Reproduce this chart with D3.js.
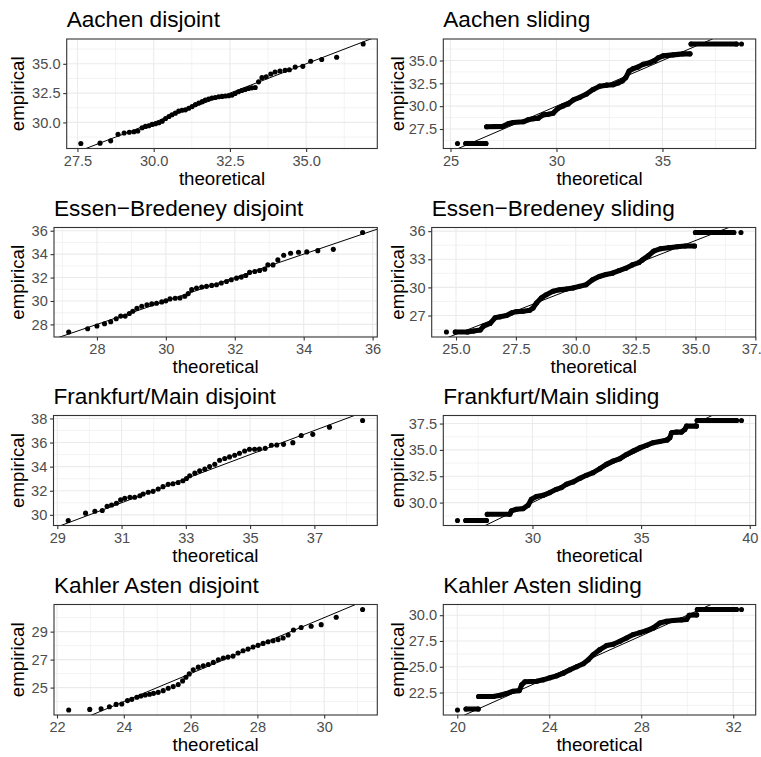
<!DOCTYPE html>
<html>
<head>
<meta charset="utf-8">
<script src="https://cdn.jsdelivr.net/npm/d3@7"></script>
<style>
  body { margin: 0; background: #ffffff; }
  svg { display: block; }
</style>
</head>
<body>
<svg id="chart" width="761" height="757"></svg>
<script>
// ---- Block-maxima quantile-quantile data (theoretical vs empirical) ----

// Disjoint block maxima: one point per block
const aachenDisjointTheo = [27.61,28.24,28.59,28.83,29.03,29.20,29.35,29.48,29.62,29.73,29.84,29.95,30.06,30.17,30.28,30.39,30.50,30.60,30.71,30.82,30.93,31.04,31.15,31.26,31.37,31.48,31.59,31.69,31.80,31.91,32.02,32.13,32.24,32.35,32.46,32.57,32.67,32.78,32.89,33.00,33.11,33.22,33.33,33.44,33.55,33.69,33.84,33.98,34.14,34.31,34.45,34.64,34.89,35.15,35.51,36.00,36.87];
const aachenDisjointEmp  = [28.20,28.23,28.43,28.99,29.10,29.16,29.21,29.27,29.55,29.66,29.72,29.83,29.89,29.97,30.11,30.34,30.51,30.65,30.79,30.96,31.04,31.07,31.21,31.35,31.52,31.66,31.77,31.91,31.99,32.08,32.13,32.19,32.22,32.25,32.28,32.33,32.47,32.61,32.72,32.81,32.89,32.95,32.98,33.46,33.82,33.90,34.13,34.30,34.38,34.44,34.49,34.72,34.78,35.22,35.37,35.56,36.69];

const essenDisjointTheo = [27.18,27.73,28.00,28.22,28.40,28.56,28.69,28.82,28.94,29.04,29.16,29.30,29.45,29.59,29.73,29.88,30.00,30.12,30.27,30.41,30.55,30.65,30.75,30.89,31.04,31.18,31.33,31.47,31.61,31.76,31.90,32.05,32.19,32.32,32.43,32.58,32.72,32.87,32.96,33.11,33.25,33.42,33.62,33.85,34.09,34.41,34.86,35.71];
const essenDisjointEmp  = [27.35,27.63,27.86,28.06,28.23,28.48,28.71,28.71,28.93,29.13,29.38,29.55,29.67,29.75,29.81,29.92,30.01,30.18,30.23,30.26,30.40,30.63,30.97,31.11,31.19,31.25,31.33,31.39,31.53,31.67,31.81,31.95,32.04,32.18,32.44,32.52,32.60,32.72,33.08,33.08,33.51,33.90,34.07,34.16,34.19,34.30,34.41,35.85];

const frankfurtDisjointTheo = [29.34,29.88,30.17,30.40,30.55,30.69,30.84,30.97,31.10,31.26,31.41,31.57,31.67,31.83,31.98,32.14,32.29,32.45,32.60,32.76,32.91,33.02,33.12,33.28,33.43,33.59,33.74,33.90,34.05,34.21,34.36,34.52,34.67,34.83,34.98,35.14,35.29,35.47,35.66,35.83,36.04,36.33,36.59,36.95,37.47,38.50];
const frankfurtDisjointEmp  = [29.53,30.14,30.30,30.36,30.71,30.82,30.96,31.24,31.37,31.46,31.46,31.59,31.73,31.87,31.95,32.14,32.34,32.53,32.58,32.69,32.83,33.02,33.24,33.46,33.65,33.79,34.01,34.20,34.53,34.67,34.81,34.95,35.11,35.30,35.44,35.44,35.47,35.52,35.77,35.80,35.85,35.99,36.59,36.68,37.28,37.83];

const kahlerDisjointTheo = [22.35,22.98,23.32,23.57,23.77,23.94,24.11,24.24,24.39,24.51,24.64,24.77,24.89,25.03,25.18,25.33,25.48,25.63,25.76,25.86,25.96,26.08,26.23,26.38,26.53,26.68,26.83,26.98,27.12,27.27,27.42,27.57,27.72,27.87,28.02,28.17,28.32,28.47,28.62,28.77,28.92,29.08,29.31,29.61,29.91,30.36,31.15];
const kahlerDisjointEmp  = [23.40,23.44,23.49,23.63,23.80,23.83,24.07,24.16,24.31,24.40,24.47,24.52,24.59,24.66,24.78,24.95,25.07,25.22,25.48,25.74,25.98,26.27,26.46,26.56,26.65,26.80,26.99,27.11,27.18,27.25,27.47,27.63,27.75,27.90,28.02,28.16,28.28,28.35,28.43,28.54,28.76,29.12,29.29,29.38,29.50,30.03,30.58];

// Sliding block maxima: many overlapping points, stored as runs of
// [theoretical, empirical] pairs that trace each continuous band of points
const aachenSlidingRuns = [
  [[25.33,25.91]],
  [[25.72,25.91],[26.67,25.91]],
  [[26.70,27.75],[27.48,27.79],[27.72,28.08],[27.96,28.22],[28.43,28.29],[28.66,28.51],[28.90,28.62],[29.14,28.69],[29.37,29.05],[29.61,29.12],[29.84,29.23],[30.08,29.77],[30.31,30.03],[30.55,30.24],[30.79,30.68],[31.10,30.97],[31.42,31.33],[31.73,31.83],[32.04,32.19],[32.36,32.30],[32.67,32.34],[32.91,32.55],[33.11,32.77],[33.27,33.13],[33.43,33.85],[33.62,34.11],[33.85,34.29],[34.09,34.58],[34.40,34.76],[34.64,35.01],[34.80,35.30],[35.03,35.51],[35.50,35.62],[35.97,35.73],[36.30,35.73]],
  [[36.35,36.81],[38.49,36.81]],
  [[38.73,36.81]]
];

const essenSlidingRuns = [
  [[24.60,25.24]],
  [[24.97,25.24],[25.48,25.24],[25.73,25.34],[26.01,25.45],[26.15,25.87],[26.42,26.15],[26.63,26.75],[26.84,26.86],[27.11,27.00],[27.32,27.28],[27.53,27.42],[27.80,27.46],[28.08,27.56],[28.22,27.81],[28.36,28.34],[28.56,28.87],[28.77,29.22],[29.05,29.58],[29.32,29.75],[29.60,29.82],[29.88,29.93],[30.15,30.11],[30.43,30.28],[30.70,30.81],[30.98,31.17],[31.26,31.38],[31.53,31.52],[31.81,31.80],[32.09,32.05],[32.36,32.40],[32.64,32.65],[32.78,32.93],[33.05,33.42],[33.26,33.88],[33.54,34.13],[33.88,34.24],[34.23,34.34],[34.57,34.41],[34.96,34.41]],
  [[35.00,35.86],[36.60,35.86]],
  [[36.90,35.86]]
];

const frankfurtSlidingRuns = [
  [[26.55,28.30]],
  [[26.93,28.30],[27.88,28.30]],
  [[27.92,28.90],[28.96,28.90],[29.03,29.21],[29.26,29.37],[29.57,29.43],[29.80,29.75],[29.95,30.32],[30.18,30.57],[30.49,30.69],[30.80,30.95],[31.10,31.26],[31.33,31.42],[31.56,31.74],[31.87,31.96],[32.18,32.30],[32.48,32.59],[32.79,32.84],[33.10,33.22],[33.40,33.63],[33.71,33.94],[34.02,34.16],[34.33,34.57],[34.63,34.89],[34.94,35.21],[35.25,35.43],[35.55,35.68],[35.86,35.80],[36.20,35.93],[36.32,36.15],[36.40,36.62],[36.63,36.69],[36.86,36.69],[37.01,36.94],[37.09,37.26],[37.55,37.26]],
  [[37.58,37.79],[39.39,37.79]],
  [[39.62,37.79]]
];

const kahlerSlidingRuns = [
  [[20.01,20.81]],
  [[20.38,20.91],[20.91,20.91]],
  [[20.93,22.11],[21.57,22.11],[21.86,22.24],[22.14,22.40],[22.43,22.63],[22.70,22.69],[22.80,23.25],[22.94,23.54],[23.45,23.60],[23.74,23.73],[24.03,23.93],[24.32,24.12],[24.61,24.38],[24.90,24.71],[25.19,25.00],[25.48,25.29],[25.70,25.68],[25.91,26.17],[26.20,26.66],[26.49,27.05],[26.78,27.18],[27.07,27.47],[27.36,27.79],[27.65,28.12],[27.94,28.31],[28.23,28.51],[28.52,28.77],[28.81,29.25],[29.10,29.42],[29.39,29.48],[29.75,29.55],[29.97,29.58],[30.09,30.00],[30.41,30.03]],
  [[30.44,30.55],[32.14,30.55]],
  [[32.36,30.55]]
];

// Tick breaks and labels
const aachenDisjointXTicks = [27.5, 30, 32.5, 35];   const aachenDisjointXLabels = ["27.5","30.0","32.5","35.0"];
const aachenDisjointYTicks = [30, 32.5, 35];         const aachenDisjointYLabels = ["30.0","32.5","35.0"];
const aachenSlidingXTicks = [25, 30, 35];            const aachenSlidingXLabels = ["25","30","35"];
const aachenSlidingYTicks = [27.5, 30, 32.5, 35];    const aachenSlidingYLabels = ["27.5","30.0","32.5","35.0"];
const essenDisjointXTicks = [28, 30, 32, 34, 36];    const essenDisjointXLabels = ["28","30","32","34","36"];
const essenDisjointYTicks = [28, 30, 32, 34, 36];    const essenDisjointYLabels = ["28","30","32","34","36"];
const essenSlidingXTicks = [25, 27.5, 30, 32.5, 35, 37.5]; const essenSlidingXLabels = ["25.0","27.5","30.0","32.5","35.0","37.5"];
const essenSlidingYTicks = [27, 30, 33, 36];         const essenSlidingYLabels = ["27","30","33","36"];
const frankfurtDisjointXTicks = [29, 31, 33, 35, 37]; const frankfurtDisjointXLabels = ["29","31","33","35","37"];
const frankfurtDisjointYTicks = [30, 32, 34, 36, 38]; const frankfurtDisjointYLabels = ["30","32","34","36","38"];
const frankfurtSlidingXTicks = [30, 35, 40];         const frankfurtSlidingXLabels = ["30","35","40"];
const frankfurtSlidingYTicks = [30, 32.5, 35, 37.5]; const frankfurtSlidingYLabels = ["30.0","32.5","35.0","37.5"];
const kahlerDisjointXTicks = [22, 24, 26, 28, 30];   const kahlerDisjointXLabels = ["22","24","26","28","30"];
const kahlerDisjointYTicks = [25, 27, 29];           const kahlerDisjointYLabels = ["25","27","29"];
const kahlerSlidingXTicks = [20, 24, 28, 32];        const kahlerSlidingXLabels = ["20","24","28","32"];
const kahlerSlidingYTicks = [22.5, 25, 27.5, 30];    const kahlerSlidingYLabels = ["22.5","25.0","27.5","30.0"];

const titles = ["Aachen disjoint", "Aachen sliding",
                "Essen\u2212Bredeney disjoint", "Essen\u2212Bredeney sliding",
                "Frankfurt/Main disjoint", "Frankfurt/Main sliding",
                "Kahler Asten disjoint", "Kahler Asten sliding"];

// ---- Panel layout (pixel boxes of each plotting area) ----
const zip = (a, b) => a.map((v, i) => [v, b[i]]);
const panels = [
  { title: titles[0], runs: zip(aachenDisjointTheo, aachenDisjointEmp).map(d => [d]),
    xt: aachenDisjointXTicks, xl: aachenDisjointXLabels, yt: aachenDisjointYTicks, yl: aachenDisjointYLabels,
    cx: 0, box: { l: 66.7, r: 377.3, t: 39, b: 148.5 } },
  { title: titles[1], runs: aachenSlidingRuns,
    xt: aachenSlidingXTicks, xl: aachenSlidingXLabels, yt: aachenSlidingYTicks, yl: aachenSlidingYLabels,
    cx: 380, box: { l: 443.3, r: 755.7, t: 39, b: 148.5 } },
  { title: titles[2], runs: zip(essenDisjointTheo, essenDisjointEmp).map(d => [d]),
    xt: essenDisjointXTicks, xl: essenDisjointXLabels, yt: essenDisjointYTicks, yl: essenDisjointYLabels,
    cx: 0, box: { l: 54, r: 377.3, t: 227.5, b: 337 } },
  { title: titles[3], runs: essenSlidingRuns,
    xt: essenSlidingXTicks, xl: essenSlidingXLabels, yt: essenSlidingYTicks, yl: essenSlidingYLabels,
    cx: 380, box: { l: 431.7, r: 755.7, t: 227.5, b: 337 } },
  { title: titles[4], runs: zip(frankfurtDisjointTheo, frankfurtDisjointEmp).map(d => [d]),
    xt: frankfurtDisjointXTicks, xl: frankfurtDisjointXLabels, yt: frankfurtDisjointYTicks, yl: frankfurtDisjointYLabels,
    cx: 0, box: { l: 53.5, r: 377.3, t: 415.5, b: 525.5 } },
  { title: titles[5], runs: frankfurtSlidingRuns,
    xt: frankfurtSlidingXTicks, xl: frankfurtSlidingXLabels, yt: frankfurtSlidingYTicks, yl: frankfurtSlidingYLabels,
    cx: 380, box: { l: 443.3, r: 755.7, t: 415.5, b: 525.5 } },
  { title: titles[6], runs: zip(kahlerDisjointTheo, kahlerDisjointEmp).map(d => [d]),
    xt: kahlerDisjointXTicks, xl: kahlerDisjointXLabels, yt: kahlerDisjointYTicks, yl: kahlerDisjointYLabels,
    cx: 0, box: { l: 54, r: 377.3, t: 604.5, b: 715 } },
  { title: titles[7], runs: kahlerSlidingRuns,
    xt: kahlerSlidingXTicks, xl: kahlerSlidingXLabels, yt: kahlerSlidingYTicks, yl: kahlerSlidingYLabels,
    cx: 380, box: { l: 443.3, r: 755.7, t: 604.5, b: 715 } }
];

const FONT = "'Liberation Sans', Arial, Helvetica, sans-serif";
const svg = d3.select("#chart");
svg.append("rect").attr("width", 761).attr("height", 757).attr("fill", "#ffffff");

// ggplot-style minor breaks: midpoints between majors, plus one half-step beyond each end
function minorBreaks(ticks, domain) {
  const step = ticks.length > 1 ? ticks[1] - ticks[0] : 1;
  const out = [ticks[0] - step / 2];
  for (let i = 0; i < ticks.length - 1; i++) out.push((ticks[i] + ticks[i + 1]) / 2);
  out.push(ticks[ticks.length - 1] + step / 2);
  return out.filter(v => v >= domain[0] && v <= domain[1]);
}

panels.forEach((p, idx) => {
  const { l, r, t, b } = p.box;
  const all = p.runs.flat();
  const xe = d3.extent(all, d => d[0]);
  const ye = d3.extent(all, d => d[1]);
  const xp = (xe[1] - xe[0]) * 0.05, yp = (ye[1] - ye[0]) * 0.05;
  const x = d3.scaleLinear().domain([xe[0] - xp, xe[1] + xp]).range([l, r]);
  const y = d3.scaleLinear().domain([ye[0] - yp, ye[1] + yp]).range([b, t]);

  const g = svg.append("g");
  const clipId = "clip" + idx;
  g.append("clipPath").attr("id", clipId)
    .append("rect").attr("x", l).attr("y", t).attr("width", r - l).attr("height", b - t);

  // Grid: minor then major
  const grid = g.append("g").attr("clip-path", `url(#${clipId})`);
  grid.selectAll(".vmin").data(minorBreaks(p.xt, x.domain())).join("line")
    .attr("x1", d => x(d)).attr("x2", d => x(d)).attr("y1", t).attr("y2", b)
    .attr("stroke", "#ebebeb").attr("stroke-width", 0.6);
  grid.selectAll(".hmin").data(minorBreaks(p.yt, y.domain())).join("line")
    .attr("y1", d => y(d)).attr("y2", d => y(d)).attr("x1", l).attr("x2", r)
    .attr("stroke", "#ebebeb").attr("stroke-width", 0.6);
  grid.selectAll(".vmaj").data(p.xt).join("line")
    .attr("x1", d => x(d)).attr("x2", d => x(d)).attr("y1", t).attr("y2", b)
    .attr("stroke", "#ebebeb").attr("stroke-width", 1.1);
  grid.selectAll(".hmaj").data(p.yt).join("line")
    .attr("y1", d => y(d)).attr("y2", d => y(d)).attr("x1", l).attr("x2", r)
    .attr("stroke", "#ebebeb").attr("stroke-width", 1.1);

  const marks = g.append("g").attr("clip-path", `url(#${clipId})`);
  const R = 2.55;
  // Continuous bands of overlapping points
  const line = d3.line().x(d => x(d[0])).y(d => y(d[1]));
  marks.selectAll("path.band").data(p.runs.filter(run => run.length > 1)).join("path")
    .attr("class", "band")
    .attr("d", line)
    .attr("fill", "none").attr("stroke", "#000").attr("stroke-width", 2 * R)
    .attr("stroke-linecap", "round").attr("stroke-linejoin", "round");
  marks.selectAll("circle").data(all).join("circle")
    .attr("cx", d => x(d[0])).attr("cy", d => y(d[1])).attr("r", R).attr("fill", "#000");

  // Reference line y = x
  const xd = x.domain();
  marks.append("line")
    .attr("x1", x(xd[0])).attr("y1", y(xd[0]))
    .attr("x2", x(xd[1])).attr("y2", y(xd[1]))
    .attr("stroke", "#000").attr("stroke-width", 1);

  // Panel border
  g.append("rect").attr("x", l).attr("y", t).attr("width", r - l).attr("height", b - t)
    .attr("fill", "none").attr("stroke", "#333333").attr("stroke-width", 1.1);

  // Axes
  const ax = g.append("g").attr("transform", `translate(0,${b})`)
    .call(d3.axisBottom(x).tickValues(p.xt).tickFormat((d, i) => p.xl[i]).tickSize(3.5).tickPadding(3.3));
  const ay = g.append("g").attr("transform", `translate(${l},0)`)
    .call(d3.axisLeft(y).tickValues(p.yt).tickFormat((d, i) => p.yl[i]).tickSize(3.5).tickPadding(2.7));
  [ax, ay].forEach(a => {
    a.select(".domain").remove();
    a.selectAll(".tick line").attr("stroke", "#333333").attr("stroke-width", 1.1);
    a.selectAll(".tick text").attr("fill", "#4d4d4d")
      .style("font-family", FONT).style("font-size", "14.6px");
  });

  // Titles
  g.append("text").attr("x", l).attr("y", t - 11.7)
    .style("font-family", FONT).style("font-size", "22.6px").attr("fill", "#000")
    .text(p.title);
  g.append("text").attr("x", (l + r) / 2).attr("y", b + 36.2).attr("text-anchor", "middle")
    .style("font-family", FONT).style("font-size", "18.7px").attr("fill", "#000")
    .text("theoretical");
  g.append("text")
    .attr("transform", `translate(${p.cx + 23.5},${(t + b) / 2}) rotate(-90)`)
    .attr("text-anchor", "middle")
    .style("font-family", FONT).style("font-size", "18.7px").attr("fill", "#000")
    .text("empirical");
});
</script>
</body>
</html>
